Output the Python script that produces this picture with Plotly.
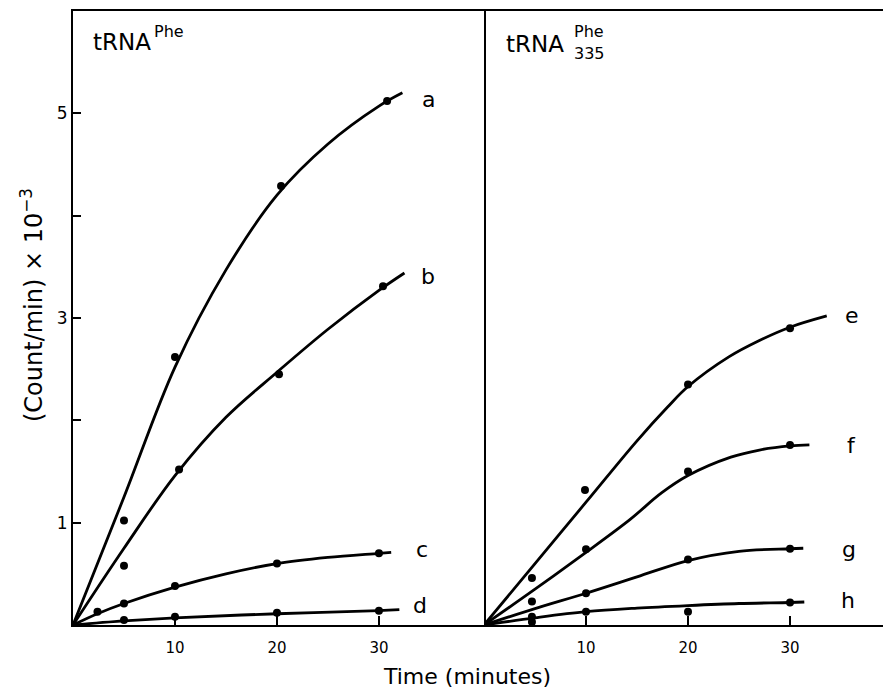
import plotly.graph_objects as go

# ---------------- data ----------------
# Left panel: tRNA^Phe  (measured points)
a_t = [5, 10, 20.4, 30.8]
a_v = [1.02, 2.62, 4.29, 5.12]
b_t = [5, 10.4, 20.2, 30.4]
b_v = [0.58, 1.52, 2.45, 3.31]
c_t = [2.4, 5, 10, 20, 30]
c_v = [0.13, 0.21, 0.38, 0.60, 0.70]
d_t = [5, 10, 20, 30]
d_v = [0.05, 0.08, 0.12, 0.14]

# Left panel: hand-drawn fitted curves
a_fit_t = [0, 5, 10, 15, 20, 25, 30, 32.3]
a_fit_v = [0, 1.25, 2.52, 3.47, 4.2, 4.7, 5.07, 5.2]
b_fit_t = [0, 5, 10, 15, 20, 25, 30, 32.5]
b_fit_v = [0, 0.75, 1.46, 2.03, 2.47, 2.89, 3.27, 3.44]
c_fit_t = [0, 2.4, 5, 10, 15, 20, 25, 30, 31.2]
c_fit_v = [0, 0.11, 0.21, 0.37, 0.5, 0.6, 0.66, 0.7, 0.71]
d_fit_t = [0, 5, 10, 20, 30, 32]
d_fit_v = [0, 0.04, 0.07, 0.11, 0.14, 0.15]

# Right panel: tRNA^Phe_335 (measured points)
e_t = [4.7, 9.9, 20, 30]
e_v = [0.46, 1.32, 2.35, 2.90]
f_t = [4.7, 10, 20, 30]
f_v = [0.23, 0.74, 1.50, 1.76]
g_t = [4.7, 10, 20, 30]
g_v = [0.08, 0.31, 0.64, 0.745]
h_t = [4.7, 10, 20, 30]
h_v = [0.03, 0.13, 0.13, 0.22]

# Right panel: fitted curves
e_fit_t = [0, 5, 10, 15, 18, 20, 24, 27, 30, 33.6]
e_fit_v = [0, 0.6, 1.2, 1.8, 2.13, 2.33, 2.62, 2.78, 2.91, 3.02]
f_fit_t = [0, 5, 10, 14.3, 17.4, 20, 24.2, 27, 30, 31.9]
f_fit_v = [0, 0.35, 0.71, 1.03, 1.29, 1.46, 1.64, 1.71, 1.75, 1.76]
g_fit_t = [0, 5, 10, 15, 20, 25, 30, 31.3]
g_fit_v = [0, 0.16, 0.31, 0.47, 0.63, 0.72, 0.745, 0.75]
h_fit_t = [0, 5, 10, 15, 20, 25, 30, 31.4]
h_fit_v = [0, 0.07, 0.13, 0.165, 0.19, 0.21, 0.22, 0.225]

# curve labels
labels_left = ["a", "b", "c", "d"]
labels_left_x = [34.9, 34.8, 34.2, 34.0]
labels_left_y = [5.14, 3.41, 0.74, 0.19]
labels_right = ["e", "f", "g", "h"]
labels_right_x = [36.1, 36.0, 35.8, 35.7]
labels_right_y = [3.02, 1.75, 0.74, 0.24]

y_major = [1, 3, 5]
y_minor = [2, 4]
y_all = [1, 2, 3, 4, 5]
x_ticks = [10, 20, 30]

FONT = "DejaVu Sans"
OFF = 8                      # page body margin of the browser
W, H = 891 - OFF, 691 - OFF
# screen-pixel frame of the plot area: x 73..891, y 11..625
ML, MR, MT = 73 - OFF, 0, 11 - OFF
MB = H - (625 - OFF)
split = (484 - 73) / (891 - 73)

fig = go.Figure()

def add_series(t, v, ft, fv, xa, ya):
    fig.add_trace(go.Scatter(x=ft, y=fv, mode="lines", xaxis=xa, yaxis=ya,
                             line=dict(color="black", width=2.8, shape="spline", smoothing=1.0),
                             hoverinfo="skip"))
    fig.add_trace(go.Scatter(x=t, y=v, mode="markers", xaxis=xa, yaxis=ya,
                             marker=dict(color="black", size=8)))

add_series(a_t, a_v, a_fit_t, a_fit_v, "x", "y")
add_series(b_t, b_v, b_fit_t, b_fit_v, "x", "y")
add_series(c_t, c_v, c_fit_t, c_fit_v, "x", "y")
add_series(d_t, d_v, d_fit_t, d_fit_v, "x", "y")
add_series(e_t, e_v, e_fit_t, e_fit_v, "x2", "y2")
add_series(f_t, f_v, f_fit_t, f_fit_v, "x2", "y2")
add_series(g_t, g_v, g_fit_t, g_fit_v, "x2", "y2")
add_series(h_t, h_v, h_fit_t, h_fit_v, "x2", "y2")

axis_common = dict(showgrid=False, zeroline=False, linecolor="black",
                   ticks="inside", tickcolor="black", tickwidth=2, automargin=False)

fig.update_layout(
    width=W, height=H,
    margin=dict(l=ML, r=MR, t=MT, b=MB, pad=0, autoexpand=False),
    paper_bgcolor="white", plot_bgcolor="white",
    showlegend=False,
    font=dict(family=FONT, color="black"),
    xaxis=dict(domain=[0, split], range=[0, 40.3], anchor="y", tickvals=x_ticks,
               ticklen=9, showline=True, linewidth=2, mirror=True, tickfont=dict(size=15),
               ticklabelstandoff=8, **axis_common),
    xaxis2=dict(domain=[split, 1], range=[0, 39.9], anchor="y2", tickvals=x_ticks,
                ticklen=9, showline=True, linewidth=2, mirror=True, tickfont=dict(size=15),
                ticklabelstandoff=8, **axis_common),
    yaxis=dict(domain=[0, 1], range=[0, 6], anchor="x", tickvals=y_major,
               ticklen=8, showline=True, linewidth=2, mirror=True,
               tickfont=dict(size=17),
               minor=dict(tickvals=y_minor, ticks="inside", ticklen=8, tickwidth=2,
                          tickcolor="black", showgrid=False),
               **axis_common),
    yaxis2=dict(domain=[0, 1], range=[0, 6], anchor="x2", side="right",
                tickvals=y_all, showticklabels=False, ticklen=6,
                showline=False, **axis_common),
)

def px_to_paper(px, py):
    # px, py are screen pixels of the reference
    fx, fy = px - OFF, py - OFF
    return (fx - ML) / (W - ML - MR), (H - MB - fy) / (H - MT - MB)

anns = []
for name, x, y in zip(labels_left, labels_left_x, labels_left_y):
    anns.append(dict(x=x, y=y, xref="x", yref="y", text=name, showarrow=False,
                     font=dict(size=22, family=FONT), xanchor="center", yanchor="middle"))
for name, x, y in zip(labels_right, labels_right_x, labels_right_y):
    anns.append(dict(x=x, y=y, xref="x2", yref="y2", text=name, showarrow=False,
                     font=dict(size=22, family=FONT), xanchor="center", yanchor="middle"))

def txt(text, px, py, size, xanchor="left", angle=0):
    x, y = px_to_paper(px, py)
    anns.append(dict(x=x, y=y, xref="paper", yref="paper", text=text, showarrow=False,
                     font=dict(size=size, family=FONT), xanchor=xanchor, yanchor="middle",
                     textangle=angle))

txt("tRNA", 91, 42, 23)
txt("Phe", 152, 31, 16)
txt("tRNA", 504, 44, 23)
txt("Phe", 572, 31, 16)
txt("335", 572, 53, 16)
txt("Time (minutes)", 467, 676, 22, xanchor="center")
txt("(Count/min) × 10<sup>−3</sup>", 32, 305, 24, xanchor="center", angle=-90)

fig.update_layout(annotations=anns)
fig.write_html("out.html")
